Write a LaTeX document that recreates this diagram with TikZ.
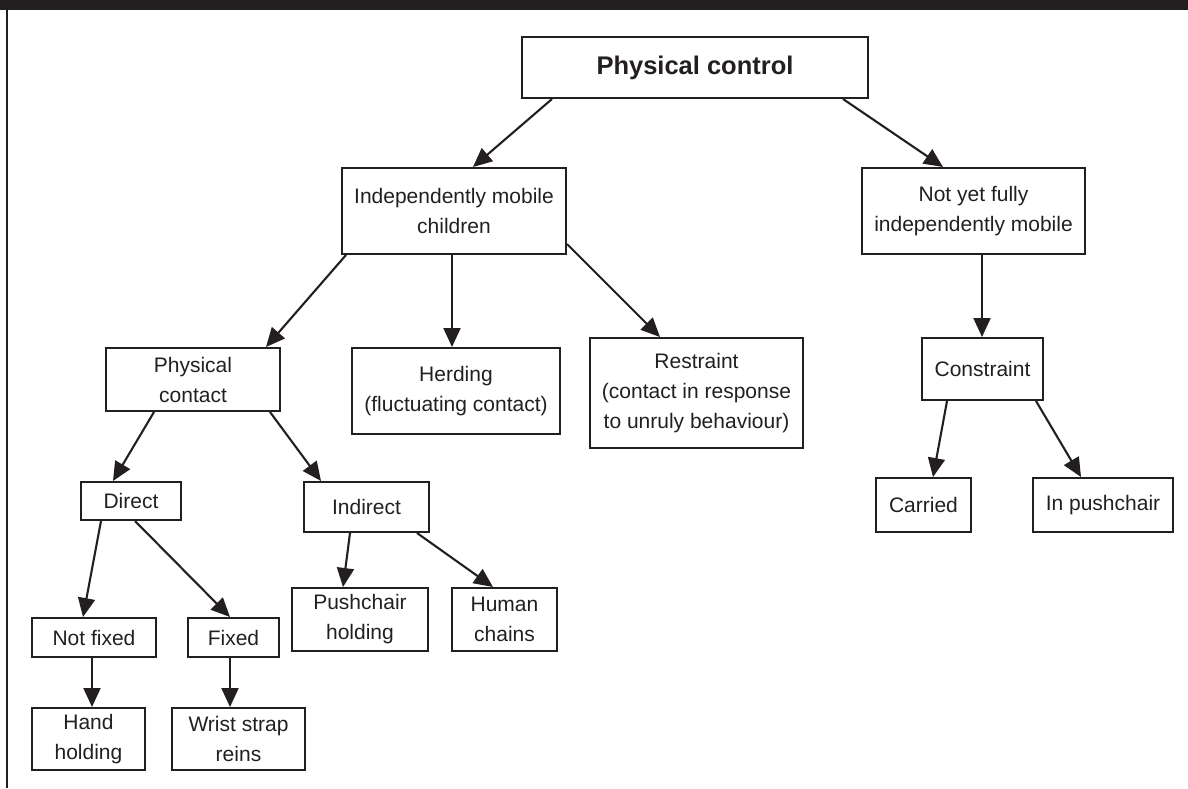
\documentclass[tikz,border=0pt]{standalone}
\usepackage{fontspec}
\setmainfont{Liberation Sans}
\usetikzlibrary{arrows.meta,calc}
\definecolor{ink}{HTML}{231F20}
\begin{document}
\begin{tikzpicture}[x=1pt,y=-1pt,
  box/.style={draw=ink, line width=2pt, rectangle, inner sep=0pt, align=center,
              text=ink, font=\fontsize{21}{30}\selectfont},
  arr/.style={draw=ink, line width=2.1pt, -{Triangle[length=19pt,width=17pt]}},
  ]
\useasboundingbox (0,0) rectangle (1188,788);

% frame: heading bar and left rule
\fill[ink] (0,0) rectangle (1188,10);
\draw[ink, line width=2.4pt] (7,0) -- (7,788);

% boxes
\node[box, minimum width=346pt, minimum height=61pt, font=\fontsize{25.5}{30}\selectfont\bfseries]
  (top) at (695,67.5) {Physical control};
\node[box, minimum width=224pt, minimum height=86pt] (imc) at (454,211) {Independently mobile\\children};
\node[box, minimum width=223pt, minimum height=86pt] (nyf) at (973.5,211) {Not yet fully\\independently mobile};
\node[box, minimum width=174pt, minimum height=63pt] (pcon) at (193,379.5) {Physical\\contact};
\node[box, minimum width=208pt, minimum height=86pt] (herd) at (456,391) {Herding\\(fluctuating contact)};
\node[box, minimum width=213pt, minimum height=110pt] (rest) at (696.5,393) {Restraint\\(contact in response\\to unruly behaviour)};
\node[box, minimum width=121pt, minimum height=62pt] (cons) at (982.5,369) {Constraint};
\node[box, minimum width=100pt, minimum height=38pt] (direct) at (131,501) {Direct};
\node[box, minimum width=125pt, minimum height=50pt] (indirect) at (366.5,507) {Indirect};
\node[box, minimum width=95pt, minimum height=54pt] (carried) at (923.5,505) {Carried};
\node[box, minimum width=140pt, minimum height=54pt] (inpush) at (1103,505) {In pushchair};
\node[box, minimum width=124pt, minimum height=39pt] (notfixed) at (94,637.5) {Not fixed};
\node[box, minimum width=91pt, minimum height=39pt] (fixed) at (233.5,637.5) {Fixed};
\node[box, minimum width=136pt, minimum height=63pt] (pushhold) at (360,619.5) {Pushchair\\holding};
\node[box, minimum width=105pt, minimum height=63pt] (human) at (504.5,619.5) {Human\\chains};
\node[box, minimum width=113pt, minimum height=62pt] (hand) at (88.5,739) {Hand\\holding};
\node[box, minimum width=133pt, minimum height=62pt] (wrist) at (238.5,739) {Wrist strap\\reins};

% connectors
\draw[arr] ($(top.south)+(-143,0)$) -- ($(imc.north)+(19,0)$);
\draw[arr] ($(top.south)+(148,0)$) -- ($(nyf.north)+(-30.5,0)$);
\draw[arr] ($(imc.south west)+(5,0)$) -- ($(pcon.north east)+(-15,0)$);
\draw[arr] ($(imc.south)+(-2,0)$) -- ($(herd.north)+(-4,0)$);
\draw[arr] ($(imc.south east)+(0,-11)$) -- ($(rest.north)+(-36.5,0)$);
\draw[arr] ($(nyf.south)+(8.5,0)$) -- ($(cons.north)+(-0.5,0)$);
\draw[arr] ($(pcon.south)+(-39,0)$) -- ($(direct.north)+(-18,0)$);
\draw[arr] ($(pcon.south east)+(-11,0)$) -- ($(indirect.north)+(-45.5,0)$);
\draw[arr] ($(direct.south west)+(21,0)$) -- ($(notfixed.north)+(-11,0)$);
\draw[arr] ($(direct.south)+(4,0)$) -- ($(fixed.north)+(-3.5,0)$);
\draw[arr] ($(notfixed.south)+(-2,0)$) -- ($(hand.north)+(3.5,0)$);
\draw[arr] ($(fixed.south)+(-3.5,0)$) -- ($(wrist.north)+(-8.5,0)$);
\draw[arr] ($(indirect.south)+(-16.5,0)$) -- ($(pushhold.north)+(-17,0)$);
\draw[arr] ($(indirect.south)+(50.5,0)$) -- ($(human.north)+(-11.5,0)$);
\draw[arr] ($(cons.south)+(-35.5,0)$) -- ($(carried.north)+(9.5,0)$);
\draw[arr] ($(cons.south)+(53.5,0)$) -- ($(inpush.north)+(-22,0)$);
\end{tikzpicture}
\end{document}
